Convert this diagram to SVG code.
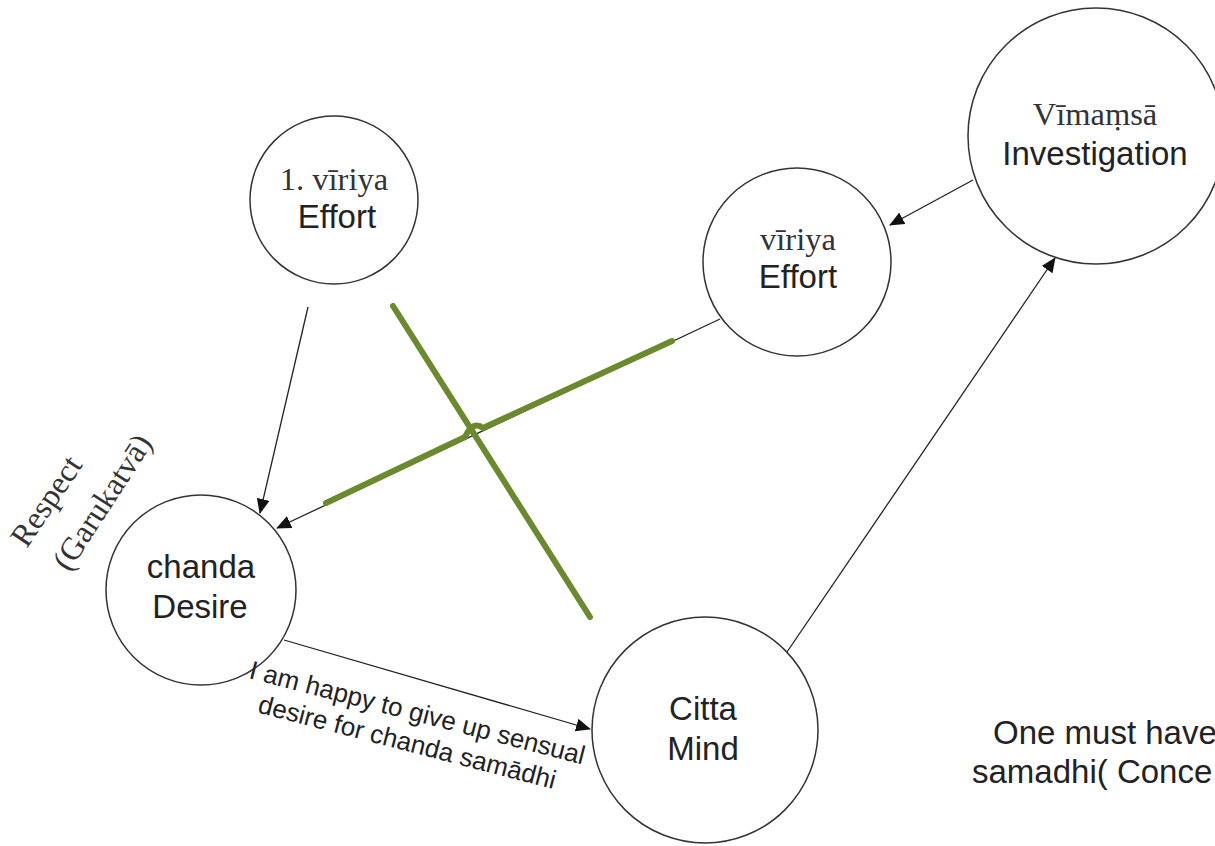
<svg xmlns="http://www.w3.org/2000/svg" width="1215" height="846" viewBox="0 0 1215 846">
<defs>
<style>
.node{fill:#fff;stroke:#333;stroke-width:1.5}
.serif{font-family:"Liberation Serif",serif;fill:#333;text-anchor:middle}
.sans{font-family:"Liberation Sans",Arial,sans-serif;fill:#222;text-anchor:middle}
.lbl{font-family:"Liberation Sans",Arial,sans-serif;fill:#222;text-anchor:start}
.conn{stroke:#222;stroke-width:1.3;fill:none}
.green{stroke:#6b8a2e;stroke-width:6;fill:none;stroke-linecap:round;stroke-linejoin:round}
</style>
<marker id="arr" markerWidth="15" markerHeight="13" refX="14" refY="6.5" orient="auto" markerUnits="userSpaceOnUse">
<path d="M0,0 L15,6.5 L0,13 Z" fill="#111"/>
</marker>
</defs>
<rect width="1215" height="846" fill="#fff"/>
<g id="connectors">
<line class="conn" x1="308" y1="307" x2="260" y2="513" marker-end="url(#arr)"/>
<line class="conn" x1="973" y1="180" x2="890" y2="225" marker-end="url(#arr)"/>
<line class="conn" x1="720" y1="319" x2="277" y2="528" marker-end="url(#arr)"/>
<line class="conn" x1="787" y1="652" x2="1055" y2="258" marker-end="url(#arr)"/>
<line class="conn" x1="284" y1="640" x2="590" y2="729" marker-end="url(#arr)"/>
<path class="green" d="M672,341 L483,428 Q473,420 465,437 L326,503"/>
<line class="green" x1="393" y1="306" x2="590" y2="617"/>
</g>
<g id="node-viriya1">
<circle class="node" cx="334" cy="200" r="84"/>
<text class="serif" x="334" y="190" font-size="32.5">1. vīriya</text>
<text class="sans" x="337" y="228" font-size="33">Effort</text>
</g>
<g id="node-viriya2">
<circle class="node" cx="797" cy="262" r="94"/>
<text class="serif" x="798" y="250" font-size="32.5">vīriya</text>
<text class="sans" x="798" y="288" font-size="33">Effort</text>
</g>
<g id="node-vimamsa">
<circle class="node" cx="1096" cy="136" r="128"/>
<text class="serif" x="1095" y="125" font-size="32.5">Vīmaṃsā</text>
<text class="sans" x="1095" y="165" font-size="33">Investigation</text>
</g>
<g id="node-chanda">
<circle class="node" cx="201" cy="590" r="95"/>
<text class="sans" x="201" y="578" font-size="33">chanda</text>
<text class="sans" x="200" y="618" font-size="33">Desire</text>
</g>
<g id="node-citta">
<circle class="node" cx="705" cy="730" r="113"/>
<text class="sans" x="703" y="720" font-size="33">Citta</text>
<text class="sans" x="703" y="760" font-size="33">Mind</text>
</g>
<g id="labels">
<text class="serif" font-size="32" transform="translate(55,507) rotate(-56)">Respect</text>
<text class="serif" font-size="32" transform="translate(111,508) rotate(-57)">(Garukatvā)</text>
<g transform="translate(248,678) rotate(14.5)">
<text class="lbl" x="0" y="0" font-size="26">I am happy to give up sensual</text>
<text class="lbl" x="17" y="31" font-size="26">desire for chanda samādhi</text>
</g>
<text class="lbl" x="993" y="744" font-size="33">One must have</text>
<text class="lbl" x="972" y="783" font-size="33">samadhi( Conce</text>
</g>
</svg>
